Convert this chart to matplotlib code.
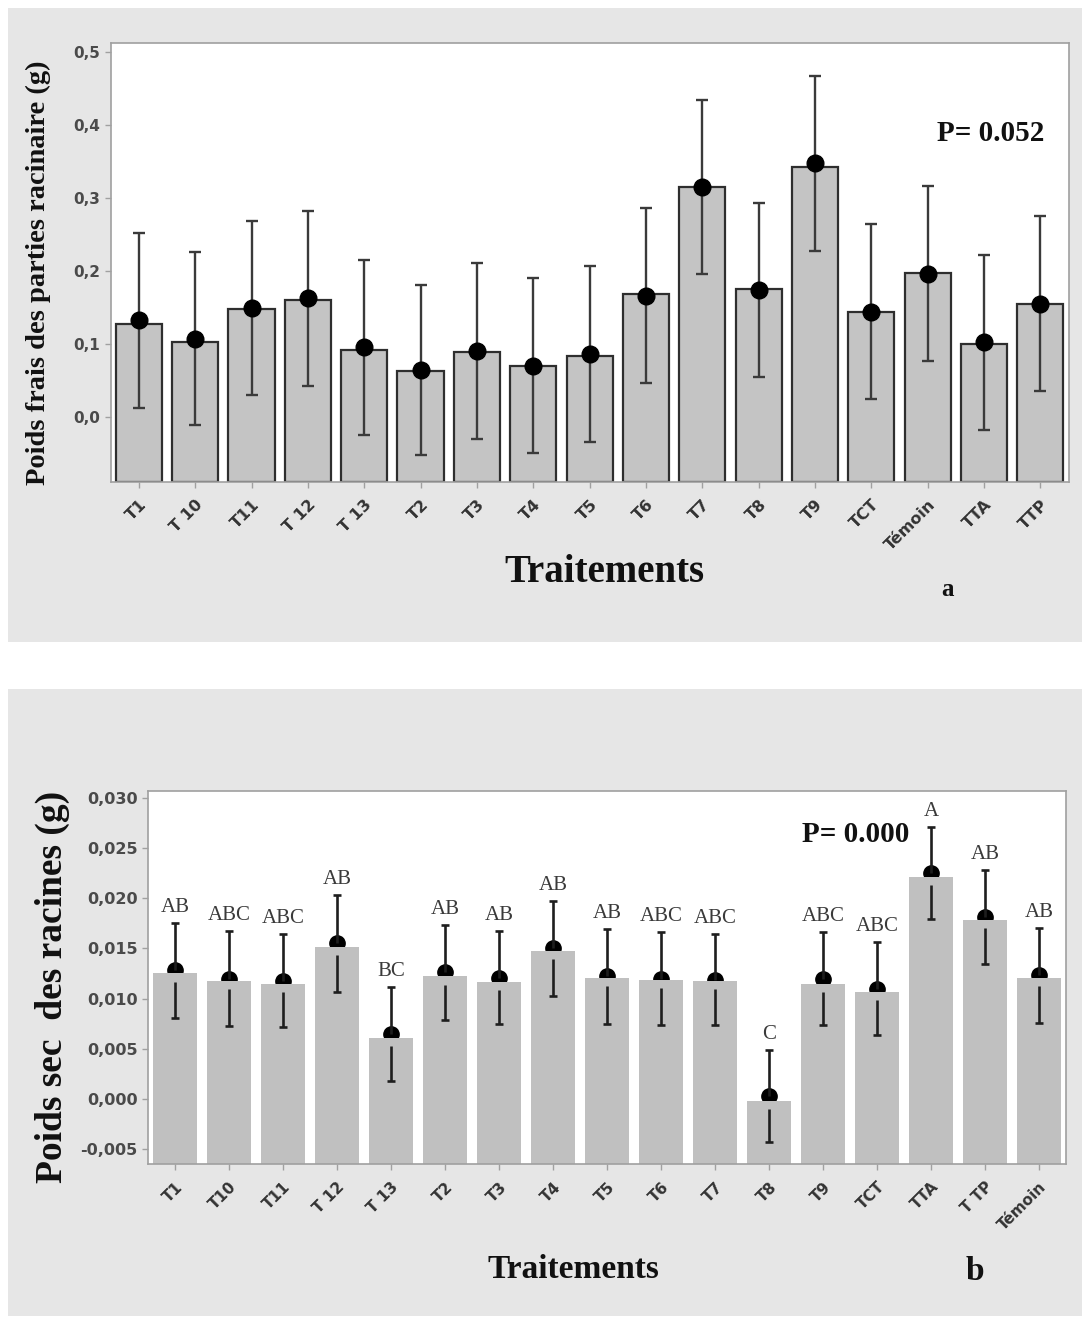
import matplotlib.pyplot as plt
from matplotlib.patches import Rectangle
from matplotlib.ticker import FuncFormatter

# --- panel a : poids frais des parties racinaires
cats_a = ["T1", "T 10", "T11", "T 12", "T 13", "T2", "T3", "T4", "T5", "T6", "T7", "T8", "T9",
          "TCT", "Témoin", "TTA", "TTP"]
bars_a = [0.127, 0.103, 0.148, 0.160, 0.092, 0.062, 0.089, 0.070, 0.083, 0.168, 0.315, 0.175,
          0.342, 0.143, 0.197, 0.100, 0.154]
means_a = [0.132, 0.107, 0.149, 0.162, 0.095, 0.064, 0.090, 0.070, 0.086, 0.166, 0.315, 0.174,
           0.347, 0.144, 0.196, 0.102, 0.155]
err_a = [0.120, 0.118, 0.119, 0.120, 0.120, 0.117, 0.120, 0.120, 0.120, 0.120, 0.119, 0.119,
         0.120, 0.120, 0.120, 0.120, 0.120]

# --- panel b : poids sec des racines
cats_b = ["T1", "T10", "T11", "T 12", "T 13", "T2", "T3", "T4", "T5", "T6", "T7", "T8", "T9",
          "TCT", "TTA", "T TP", "Témoin"]
bars_b = [0.0125, 0.0118, 0.0115, 0.0151, 0.0061, 0.0122, 0.0117, 0.0147, 0.0121, 0.0119, 0.0118,
          -0.0002, 0.0115, 0.0107, 0.0221, 0.0178, 0.0121]
means_b = [0.0128, 0.0120, 0.0118, 0.0155, 0.0065, 0.0126, 0.0121, 0.0150, 0.0122, 0.0120, 0.0119,
           0.0003, 0.0120, 0.0110, 0.0225, 0.0181, 0.0123]
err_b = [0.0047, 0.0047, 0.0046, 0.0048, 0.0047, 0.0047, 0.0046, 0.0047, 0.0047, 0.0046, 0.0045,
         0.0046, 0.0046, 0.0046, 0.0046, 0.0047, 0.0047]
letters_b = ["AB", "ABC", "ABC", "AB", "BC", "AB", "AB", "AB", "AB", "ABC", "ABC", "C", "ABC",
             "ABC", "A", "AB", "AB"]

W, H = 1088, 1321
fig = plt.figure(figsize=(W / 100, H / 100), dpi=100)
fig.patch.set_facecolor("white")


def fx(x):
    return x / W


def fy(y):
    return 1 - y / H


# grey panel backgrounds
for y0, y1 in [(8, 642), (689, 1316)]:
    fig.patches.append(Rectangle((fx(8), fy(y1)), fx(1082) - fx(8), fy(y0) - fy(y1),
                                 transform=fig.transFigure, facecolor="#e6e6e6",
                                 edgecolor="none", zorder=-10))

serif = "Liberation Serif"
tick_col = "#4a4a4a"


def style_axes(ax):
    for s in ax.spines.values():
        s.set_color("#a0a0a0")
        s.set_linewidth(1.2)
    ax.tick_params(axis="both", colors="#a0a0a0", length=4, width=1)
    ax.tick_params(axis="x", pad=7)
    ax.set_facecolor("white")


# ---------------- panel a
ax1 = fig.add_axes([fx(110.7), fy(481.7), fx(1068.5) - fx(110.7), fy(43.3) - fy(481.7)])
ylo_a, yhi_a = -0.089, 0.5115
x_a = list(range(len(cats_a)))
ax1.bar(x_a, [b - ylo_a for b in bars_a], bottom=ylo_a, width=0.82, color="#c4c4c4",
        edgecolor="#2e2e2e", linewidth=1.6, zorder=2)
ax1.errorbar(x_a, means_a, yerr=err_a, fmt="none", ecolor="#3a3a3a", elinewidth=1.7,
             capsize=4, capthick=1.7, zorder=3)
ax1.plot(x_a, means_a, "o", color="black", markersize=12, zorder=4)
ax1.set_xlim(-0.5, len(cats_a) - 0.5)
ax1.set_ylim(ylo_a, yhi_a)
ax1.set_yticks([0.0, 0.1, 0.2, 0.3, 0.4, 0.5])
ax1.yaxis.set_major_formatter(FuncFormatter(lambda v, p: f"{v:.1f}".replace(".", ",")))
ax1.set_xticks(x_a)
ax1.set_xticklabels(cats_a, rotation=45, ha="right", rotation_mode="anchor")
style_axes(ax1)
for lab in ax1.get_yticklabels():
    lab.set_color(tick_col)
    lab.set_fontweight("bold")
    lab.set_fontsize(11)
for lab in ax1.get_xticklabels():
    lab.set_color("#333333")
    lab.set_fontweight("bold")
    lab.set_fontsize(11.5)
ax1.text(0.919, 0.795, "P= 0.052", transform=ax1.transAxes, ha="center", va="center",
         family=serif, fontweight="bold", fontsize=21, color="#111111")

fig.text(fx(38), fy(273), "Poids frais des parties racinaire (g)", rotation=90,
         ha="center", va="center", family=serif, fontweight="bold", fontsize=20.5, color="#111111")
fig.text(fx(604), fy(572), "Traitements", ha="center", va="center", family=serif,
         fontweight="bold", fontsize=28, color="#111111")
fig.text(fx(947), fy(589), "a", ha="center", va="center", family=serif,
         fontweight="bold", fontsize=18, color="#111111")

# ---------------- panel b
ax2 = fig.add_axes([fx(148), fy(1164), fx(1066) - fx(148), fy(791) - fy(1164)])
ylo_b, yhi_b = -0.0065, 0.0307
x_b = list(range(len(cats_b)))
# dot behind the bar so that only its upper half shows
ax2.plot(x_b, means_b, "o", color="black", markersize=11, zorder=1)
ax2.bar(x_b, [b - ylo_b for b in bars_b], bottom=ylo_b, width=0.83, color="#c0c0c0",
        edgecolor="none", zorder=2)
# error bars: upper part from the dot, lower part starts a little under the bar top
up = [m + e for m, e in zip(means_b, err_b)]
lo = [m - e for m, e in zip(means_b, err_b)]
lo_start = [b - 0.0008 for b in bars_b]
ax2.vlines(x_b, means_b, up, color="#1e1e1e", linewidth=1.9, zorder=3)
ax2.vlines(x_b, lo, lo_start, color="#1e1e1e", linewidth=1.9, zorder=3)
ax2.hlines(up, [x - 0.07 for x in x_b], [x + 0.07 for x in x_b], color="#1e1e1e",
           linewidth=1.9, zorder=3)
ax2.hlines(lo, [x - 0.07 for x in x_b], [x + 0.07 for x in x_b], color="#1e1e1e",
           linewidth=1.9, zorder=3)
for xi, u, t in zip(x_b, up, letters_b):
    ax2.text(xi, u + 0.0006, t, ha="center", va="bottom", family=serif,
             fontsize=15, color="#3a3a3a", zorder=5)
ax2.set_xlim(-0.5, len(cats_b) - 0.5)
ax2.set_ylim(ylo_b, yhi_b)
ax2.set_yticks([-0.005, 0.0, 0.005, 0.010, 0.015, 0.020, 0.025, 0.030])
ax2.yaxis.set_major_formatter(FuncFormatter(lambda v, p: f"{v:.3f}".replace(".", ",")))
ax2.set_xticks(x_b)
ax2.set_xticklabels(cats_b, rotation=45, ha="right", rotation_mode="anchor")
style_axes(ax2)
for lab in ax2.get_yticklabels():
    lab.set_color(tick_col)
    lab.set_fontweight("bold")
    lab.set_fontsize(11.5)
for lab in ax2.get_xticklabels():
    lab.set_color("#333333")
    lab.set_fontweight("bold")
    lab.set_fontsize(11)
ax2.text(0.771, 0.883, "P= 0.000", transform=ax2.transAxes, ha="center", va="center",
         family=serif, fontweight="bold", fontsize=21, color="#111111")

fig.text(fx(52), fy(987), "Poids sec  des racines (g)", rotation=90, ha="center",
         va="center", family=serif, fontweight="bold", fontsize=27, color="#111111")
fig.text(fx(573), fy(1270), "Traitements", ha="center", va="center", family=serif,
         fontweight="bold", fontsize=24, color="#111111")
fig.text(fx(975), fy(1272), "b", ha="center", va="center", family=serif,
         fontweight="bold", fontsize=24, color="#111111")

fig.savefig("out.png", dpi=100)
